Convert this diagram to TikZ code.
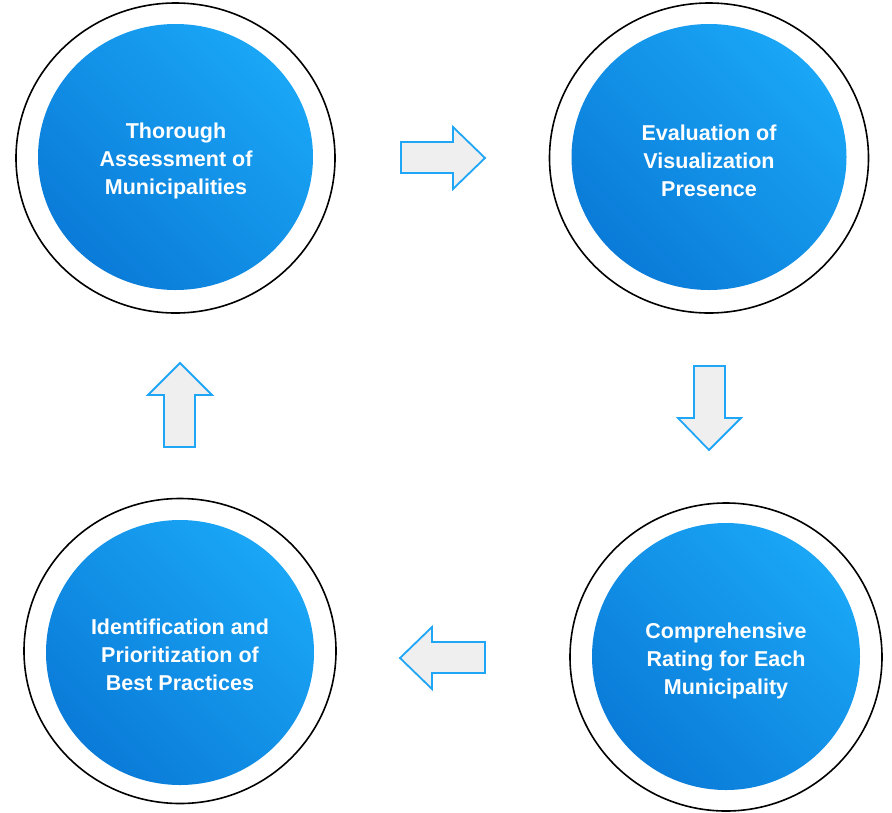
\documentclass[tikz,border=0pt]{standalone}
\usepackage{fontspec}
\usetikzlibrary{shapes.geometric}
\setmainfont{Liberation Sans}
\definecolor{bluedark}{HTML}{0A7BD8}
\definecolor{bluelight}{HTML}{1AA6F6}
\definecolor{arrowline}{HTML}{1FA6F7}
\definecolor{arrowfill}{HTML}{EFEFEF}
\tikzset{
  outerring/.style={ellipse, inner sep=0pt, draw=black, line width=1.6pt, fill=white},
  innerdisc/.style={ellipse, inner sep=0pt, left color=bluelight, right color=bluedark, shading angle=-45},
  steplabel/.style={text=white, font=\bfseries\fontsize{21.5}{28}\selectfont, align=center},
  flowarrow/.style={draw=arrowline, fill=arrowfill, line width=1.8pt, line join=miter}
}
\begin{document}
\begin{tikzpicture}[x=1pt,y=-1pt]
\useasboundingbox (0,0) rectangle (892,812);
% step 1
\node[outerring, minimum width=319pt, minimum height=310pt] (o1) at (175.5,158) {};
\node[innerdisc, minimum width=275pt, minimum height=266pt] (c1) at (175.5,157) {};
\node[steplabel] (t1) at (176,161) {Thorough\\Assessment of\\Municipalities};
% step 2
\node[outerring, minimum width=319pt, minimum height=310pt] (o2) at (709,158) {};
\node[innerdisc, minimum width=275pt, minimum height=266pt] (c2) at (709,157) {};
\node[steplabel] (t2) at (709,161) {Evaluation of\\Visualization\\Presence};
% step 3
\node[outerring, minimum width=312pt, minimum height=308pt] (o3) at (726,657) {};
\node[innerdisc, minimum width=268pt, minimum height=267pt] (c3) at (726,656.5) {};
\node[steplabel] (t3) at (726,661) {Comprehensive\\Rating for Each\\Municipality};
% step 4
\node[outerring, minimum width=312pt, minimum height=305pt] (o4) at (180,651) {};
\node[innerdisc, minimum width=268pt, minimum height=265pt] (c4) at (180,652.5) {};
\node[steplabel] (t4) at (180,655) {Identification and\\Prioritization of\\Best Practices};
% arrows
\draw[flowarrow] (401,142) -- (453,142) -- (453,127) -- (485,158) -- (453,189) -- (453,173) -- (401,173) -- cycle;
\draw[flowarrow] (694,366) -- (725,366) -- (725,418) -- (741,418) -- (709,450) -- (678,418) -- (694,418) -- cycle;
\draw[flowarrow] (485,642) -- (432,642) -- (432,627) -- (400,658) -- (432,689) -- (432,673) -- (485,673) -- cycle;
\draw[flowarrow] (164,447) -- (195,447) -- (195,395) -- (212,395) -- (180,363) -- (148,395) -- (164,395) -- cycle;
\end{tikzpicture}
\end{document}
